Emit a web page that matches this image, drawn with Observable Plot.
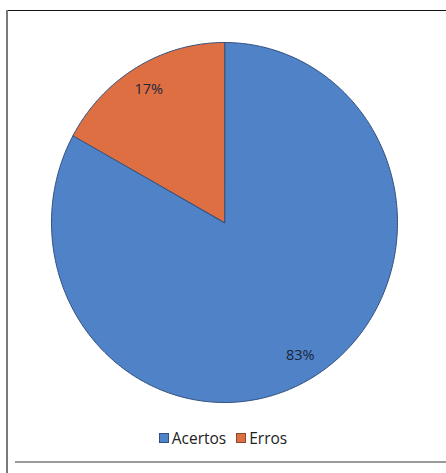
<!DOCTYPE html>
<html>
<head>
<meta charset="utf-8">
<script src="https://cdn.jsdelivr.net/npm/d3@7"></script>
<script src="https://cdn.jsdelivr.net/npm/@observablehq/plot@0.6"></script>
<style>
  html, body { margin: 0; padding: 0; background: #fff; }
  #wrap { position: relative; width: 446px; height: 473px; overflow: hidden; font-family: "Open Sans", sans-serif; }
  #frameTop { position: absolute; left: 7px; top: 10px; width: 439px; height: 0; border-top: 1px solid #111; }
  #frameLeft { position: absolute; left: 6px; top: 10px; width: 0; height: 463px; border-left: 2px solid #7a7a7a; }
  #frameBottom { position: absolute; left: 15px; top: 461px; width: 431px; height: 0; border-top: 2px solid #9a9a9a; }
  #chart { position: absolute; left: 0; top: 0; }
  #legend { position: absolute; left: 0; top: 427px; width: 446px; display: flex; justify-content: center; align-items: center; font-size: 15.5px; color: #222; }
  .item { display: flex; align-items: center; margin: 0 5px; }
  .sw { width: 10px; height: 10px; margin-right: 3px; box-sizing: border-box; }
</style>
</head>
<body>
<div id="wrap">
  <div id="chart"></div>
  <div id="frameTop"></div>
  <div id="frameLeft"></div>
  <div id="frameBottom"></div>
  <div id="legend"></div>
</div>
<script>
const categories = ["Acertos", "Erros"];
const values = [83, 17];
const labels = ["83%", "17%"];
const colors = ["#4f82c6", "#de6f42"];
const outlines = ["#2f4f80", "#8a4a30"];

const total = d3.sum(values);
const slices = [];
let acc = 0;
categories.forEach((c, i) => {
  const a0 = acc / total * 2 * Math.PI;
  acc += values[i];
  const a1 = acc / total * 2 * Math.PI;
  slices.push({category: c, a0, a1, color: colors[i], label: labels[i]});
});

function slicePoints(s) {
  const pts = [{x: 0, y: 0}];
  const n = Math.max(2, Math.ceil((s.a1 - s.a0) / (Math.PI / 180)));
  for (let k = 0; k <= n; k++) {
    const a = s.a0 + (s.a1 - s.a0) * k / n;
    pts.push({x: Math.sin(a), y: Math.cos(a)});
  }
  return pts;
}

const labelData = slices.map(s => {
  const m = (s.a0 + s.a1) / 2;
  return {x: 0.86 * Math.sin(m), y: 0.86 * Math.cos(m), text: s.label};
});

const marks = slices.map(s =>
  Plot.line(slicePoints(s), {x: "x", y: "y", fill: s.color, stroke: "#33507e", strokeWidth: 1, curve: "linear-closed"})
);
marks.push(Plot.text(labelData, {x: "x", y: "y", text: "text", fontSize: 14.5, fill: "#1c2440", fontFamily: "Open Sans, sans-serif"}));

const plot = Plot.plot({
  width: 446,
  height: 425,
  margin: 0,
  x: {domain: [-1, 1], range: [51, 397], axis: null},
  y: {domain: [-1, 1], range: [402, 42], axis: null},
  marks
});
document.getElementById("chart").appendChild(plot);

const legend = document.getElementById("legend");
categories.forEach((c, i) => {
  const item = document.createElement("div");
  item.className = "item";
  const sw = document.createElement("div");
  sw.className = "sw";
  sw.style.background = colors[i];
  sw.style.border = "1px solid " + outlines[i];
  const t = document.createElement("span");
  t.textContent = c;
  item.appendChild(sw);
  item.appendChild(t);
  legend.appendChild(item);
});
</script>
</body>
</html>
